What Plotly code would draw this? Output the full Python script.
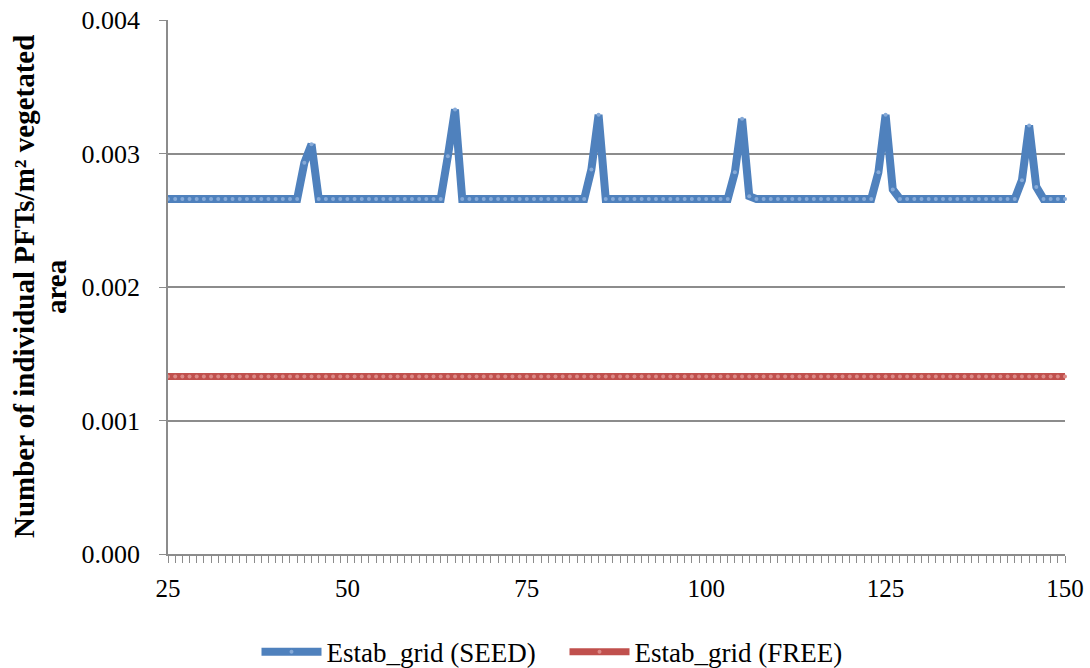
import plotly.graph_objects as go

# x categories (simulation year)
years = list(range(25, 151))

# Estab_grid (SEED), rows of ten years starting at 25
seed = [
    0.00266, 0.00266, 0.00266, 0.00266, 0.00266, 0.00266, 0.00266, 0.00266, 0.00266, 0.00266,
    0.00266, 0.00266, 0.00266, 0.00266, 0.00266, 0.00266, 0.00266, 0.00266, 0.00266, 0.00293,
    0.00307, 0.00266, 0.00266, 0.00266, 0.00266, 0.00266, 0.00266, 0.00266, 0.00266, 0.00266,
    0.00266, 0.00266, 0.00266, 0.00266, 0.00266, 0.00266, 0.00266, 0.00266, 0.00266, 0.00298,
    0.00333, 0.00266, 0.00266, 0.00266, 0.00266, 0.00266, 0.00266, 0.00266, 0.00266, 0.00266,
    0.00266, 0.00266, 0.00266, 0.00266, 0.00266, 0.00266, 0.00266, 0.00266, 0.00266, 0.00288,
    0.00329, 0.00266, 0.00266, 0.00266, 0.00266, 0.00266, 0.00266, 0.00266, 0.00266, 0.00266,
    0.00266, 0.00266, 0.00266, 0.00266, 0.00266, 0.00266, 0.00266, 0.00266, 0.00266, 0.00286,
    0.00326, 0.00268, 0.00266, 0.00266, 0.00266, 0.00266, 0.00266, 0.00266, 0.00266, 0.00266,
    0.00266, 0.00266, 0.00266, 0.00266, 0.00266, 0.00266, 0.00266, 0.00266, 0.00266, 0.00286,
    0.00329, 0.00273, 0.00266, 0.00266, 0.00266, 0.00266, 0.00266, 0.00266, 0.00266, 0.00266,
    0.00266, 0.00266, 0.00266, 0.00266, 0.00266, 0.00266, 0.00266, 0.00266, 0.00266, 0.00280,
    0.00321, 0.00275, 0.00266, 0.00266, 0.00266, 0.00266,
]

# Estab_grid (FREE), flat
free = [
    0.00133, 0.00133, 0.00133, 0.00133, 0.00133, 0.00133, 0.00133, 0.00133, 0.00133, 0.00133,
    0.00133, 0.00133, 0.00133, 0.00133, 0.00133, 0.00133, 0.00133, 0.00133, 0.00133, 0.00133,
    0.00133, 0.00133, 0.00133, 0.00133, 0.00133, 0.00133, 0.00133, 0.00133, 0.00133, 0.00133,
    0.00133, 0.00133, 0.00133, 0.00133, 0.00133, 0.00133, 0.00133, 0.00133, 0.00133, 0.00133,
    0.00133, 0.00133, 0.00133, 0.00133, 0.00133, 0.00133, 0.00133, 0.00133, 0.00133, 0.00133,
    0.00133, 0.00133, 0.00133, 0.00133, 0.00133, 0.00133, 0.00133, 0.00133, 0.00133, 0.00133,
    0.00133, 0.00133, 0.00133, 0.00133, 0.00133, 0.00133, 0.00133, 0.00133, 0.00133, 0.00133,
    0.00133, 0.00133, 0.00133, 0.00133, 0.00133, 0.00133, 0.00133, 0.00133, 0.00133, 0.00133,
    0.00133, 0.00133, 0.00133, 0.00133, 0.00133, 0.00133, 0.00133, 0.00133, 0.00133, 0.00133,
    0.00133, 0.00133, 0.00133, 0.00133, 0.00133, 0.00133, 0.00133, 0.00133, 0.00133, 0.00133,
    0.00133, 0.00133, 0.00133, 0.00133, 0.00133, 0.00133, 0.00133, 0.00133, 0.00133, 0.00133,
    0.00133, 0.00133, 0.00133, 0.00133, 0.00133, 0.00133, 0.00133, 0.00133, 0.00133, 0.00133,
    0.00133, 0.00133, 0.00133, 0.00133, 0.00133, 0.00133,
]

y_ticks = [0.000, 0.001, 0.002, 0.003, 0.004]
x_ticks = [25, 50, 75, 100, 125, 150]
y_title = ["Number of individual PFTs/m² vegetated", "area"]

FONT = "Liberation Serif"
GRID = "#8c8c8c"

fig = go.Figure()

fig.add_trace(go.Scatter(
    x=years, y=seed,
    mode="lines+markers",
    name="Estab_grid (SEED)",
    line={"color": "#4f81bd", "width": 8},
    marker={"symbol": "circle", "size": 4, "color": "#86aad8"},
    cliponaxis=False,
))

fig.add_trace(go.Scatter(
    x=years, y=free,
    mode="lines+markers",
    name="Estab_grid (FREE)",
    line={"color": "#c0504d", "width": 7},
    marker={"symbol": "circle", "size": 4, "color": "#dc8a87"},
    cliponaxis=False,
))

fig.update_layout(
    width=1090, height=668,
    margin={"l": 168, "r": 25, "t": 20, "b": 114, "autoexpand": False},
    paper_bgcolor="white",
    plot_bgcolor="white",
    font={"family": FONT, "size": 25, "color": "black"},
    showlegend=True,
    legend={
        "orientation": "h",
        "x": 0.5 - 52 / 897, "xanchor": "center",
        "y": -0.184, "yanchor": "middle",
        "font": {"family": FONT, "size": 27},
        "itemwidth": 60,
        "entrywidth": 233,
        "tracegroupgap": 0,
    },
)

# y-axis title as two rotated lines (tighter line spacing than an axis title)
for text, px in zip(y_title, [24, 56]):
    fig.add_annotation(
        text=f"<b>{text}</b>",
        xref="paper", yref="paper",
        x=(px - 168) / 897, y=0.5,
        xanchor="center", yanchor="middle",
        textangle=-90, showarrow=False,
        font={"family": FONT, "size": 29, "color": "black"},
    )

fig.update_xaxes(
    range=[25, 150],
    tickvals=x_ticks,
    automargin=False,
    ticks="outside", ticklen=7, tickcolor=GRID, tickwidth=1,
    ticklabelstandoff=4,
    minor={"dtick": 1, "tick0": 25, "ticks": "outside", "ticklen": 7,
           "tickcolor": GRID, "tickwidth": 1, "showgrid": False},
    showline=True, linecolor=GRID, linewidth=1.5,
    showgrid=False, zeroline=False,
    tickfont={"family": FONT, "size": 25},
)

fig.update_yaxes(
    range=[0, 0.004],
    tickvals=y_ticks,
    tickformat=".3f",
    automargin=False,
    ticks="outside", ticklen=7, tickcolor=GRID, tickwidth=1,
    ticklabelstandoff=14,
    showline=True, linecolor=GRID, linewidth=1.5,
    showgrid=True, gridcolor=GRID, gridwidth=1.5,
    zeroline=False,
    tickfont={"family": FONT, "size": 26},
)

fig.write_html(
    "out.html",
    config={"displayModeBar": False},
    post_script="document.body.style.margin = '0';",
)
